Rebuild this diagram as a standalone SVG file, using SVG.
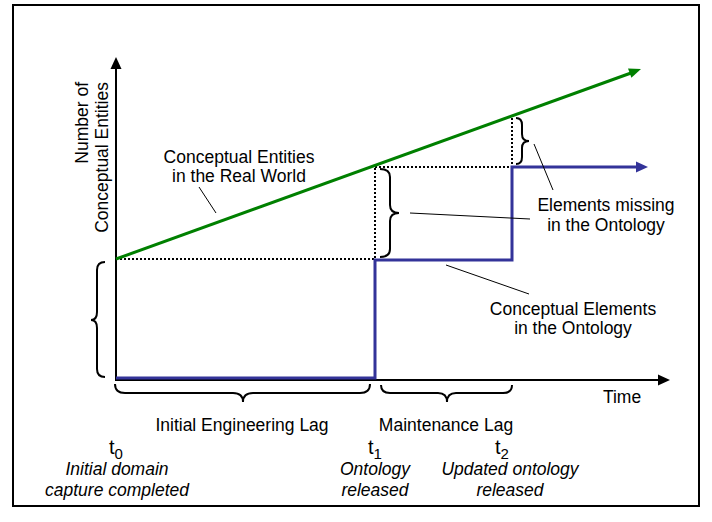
<svg xmlns="http://www.w3.org/2000/svg" width="712" height="522" viewBox="0 0 712 522">
<style>
text{font-family:"Liberation Sans",Arial,sans-serif;font-size:17.5px;fill:#000}
.it{font-style:italic}
.mid{text-anchor:middle}
.tl{font-size:20px}
.sub{font-size:15px}
.ax{stroke:#000;stroke-width:2;fill:none}
.dot{stroke:#000;stroke-width:2;stroke-dasharray:2 2;fill:none}
.br{stroke:#000;stroke-width:2;fill:none}
.ld{stroke:#000;stroke-width:1;fill:none}
.g{stroke:#008000;stroke-width:3;fill:none}
.b{stroke:#333399;stroke-width:3;fill:none;stroke-linejoin:miter}
</style>
<rect x="13" y="5" width="686" height="501" fill="#fff" stroke="#000" stroke-width="2"/>
<g id="axes">
<line class="ax" x1="116" y1="381" x2="116" y2="66"/>
<polygon points="116,57 110.5,69 121.5,69" fill="#000"/>
<line class="ax" x1="115" y1="380" x2="661" y2="380"/>
<polygon points="670,380 658,374.5 658,385.5" fill="#000"/>
<text x="622" y="403" class="mid">Time</text>
<text transform="translate(88,82) rotate(-90)" text-anchor="end">Number of</text>
<text transform="translate(108,82) rotate(-90)" text-anchor="end">Conceptual Entities</text>
</g>
<g id="guides">
<polyline class="dot" points="116,259 375,259 375,166"/>
<polyline class="dot" points="375,167 512,167 512,117"/>
</g>
<g id="real-world-line">
<line class="g" x1="116" y1="259" x2="631" y2="73"/>
<polygon points="641,69 631.4,77.8 628,68.4" fill="#008000"/>
</g>
<g id="ontology-line">
<polyline class="b" points="116,378 375,378 375,260 512,260 512,167 638,167"/>
<polygon points="648,167 636,161.5 636,172.5" fill="#333399"/>
</g>
<g id="braces">
<path class="br" d="M105,262 Q97,262 97,270 L97,312 Q97,320 91,320 Q97,320 97,328 L97,369 Q97,377 105,377"/>
<path class="br" d="M380,169 Q390,169 390,177 L390,205 Q390,213 399,213 Q390,213 390,221 L390,249 Q390,257 380,257"/>
<path class="br" d="M516,118 Q522,118 522,125 L522,134 Q522,141 529,141 Q522,141 522,148 L522,157 Q522,164 516,164"/>
<path class="br" d="M115,384 Q115,393 125,393 L233,393 Q243,393 243,402 Q243,393 253,393 L360,393 Q370,393 370,384"/>
<path class="br" d="M381,385 Q381,393 390,393 L438,393 Q447,393 447,402 Q447,393 456,393 L503,393 Q512,393 512,385"/>
</g>
<g id="leaders">
<line class="ld" x1="199" y1="187" x2="216" y2="213"/>
<line class="ld" x1="410" y1="213" x2="530" y2="219"/>
<line class="ld" x1="534" y1="144" x2="553" y2="190"/>
<line class="ld" x1="446" y1="265" x2="529" y2="294"/>
</g>
<g id="label-real-world">
<text x="239" y="163" class="mid">Conceptual Entities</text>
<text x="239" y="182" class="mid">in the Real World</text>
</g>
<g id="label-missing">
<text x="606" y="211" class="mid">Elements missing</text>
<text x="606" y="231" class="mid">in the Ontology</text>
</g>
<g id="label-ontology">
<text x="573" y="315" class="mid">Conceptual Elements</text>
<text x="573" y="334" class="mid">in the Ontology</text>
</g>
<g id="label-lags">
<text x="242" y="431" class="mid">Initial Engineering Lag</text>
<text x="446" y="431" class="mid">Maintenance Lag</text>
</g>
<g id="t0">
<text x="109" y="454" class="tl">t<tspan class="sub" dy="5">0</tspan></text>
<text x="117" y="475" class="it mid">Initial domain</text>
<text x="117" y="496" class="it mid">capture completed</text>
</g>
<g id="t1">
<text x="368" y="454" class="tl">t<tspan class="sub" dy="5">1</tspan></text>
<text x="375" y="475" class="it mid">Ontology</text>
<text x="375" y="496" class="it mid">released</text>
</g>
<g id="t2">
<text x="495" y="454" class="tl">t<tspan class="sub" dy="5">2</tspan></text>
<text x="510" y="475" class="it mid">Updated ontology</text>
<text x="510" y="496" class="it mid">released</text>
</g>
</svg>
